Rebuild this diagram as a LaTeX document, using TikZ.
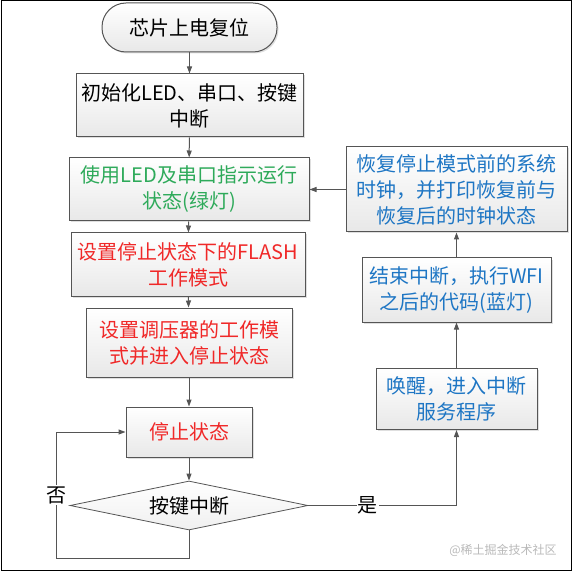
\documentclass[tikz,border=0pt]{standalone}
\usepackage{fontspec}
\newfontfamily\cjk{Noto Sans CJK SC}
\usetikzlibrary{arrows.meta, shapes.geometric, shadows}
\definecolor{stepgreen}{RGB}{46,170,90}
\definecolor{stepred}{RGB}{240,40,40}
\definecolor{stepblue}{RGB}{30,118,196}
\definecolor{linegray}{RGB}{85,85,85}
\begin{document}
\begin{tikzpicture}[x=1pt, y=-1pt,
    flowbox/.style={rectangle, draw=linegray, line width=1pt, top color=white, bottom color=gray!18,
      drop shadow={shadow xshift=1.5pt, shadow yshift=-1.5pt, fill=gray!50},
      align=center, inner sep=0pt, font=\cjk\fontsize{20}{26}\selectfont},
    termbox/.style={flowbox, rounded corners=24pt},
    decision/.style={diamond, draw=linegray, line width=0.8pt, top color=white, bottom color=gray!12,
      aspect=4.86, inner sep=0pt, font=\cjk\fontsize{20}{26}\selectfont},
    flowarrow/.style={-{Triangle[length=7pt,width=5pt]}, draw=linegray, line width=1pt},
    yesno/.style={fill=white, inner sep=1pt, font=\cjk\fontsize{20}{22}\selectfont}]
  \useasboundingbox (0,0) rectangle (573,572);
  \draw[black, line width=1pt] (1,1) rectangle (571,570);
  % main column
  \node[termbox, minimum width=175pt, minimum height=49pt] (start) at (189.5,27.5) {芯片上电复位};
  \node[flowbox, minimum width=227pt, minimum height=63pt] (init) at (189.5,105.5)
    {初始化LED、串口、按键\\中断};
  \node[flowbox, minimum width=240pt, minimum height=63pt, text=stepgreen] (run) at (189,189.5)
    {使用LED及串口指示运行\\状态(绿灯)};
  \node[flowbox, minimum width=234pt, minimum height=63pt, text=stepred] (flash) at (188,264.5)
    {设置停止状态下的FLASH\\工作模式};
  \node[flowbox, minimum width=206pt, minimum height=69pt, text=stepred] (regu) at (189,342.5)
    {设置调压器的工作模\\式并进入停止状态};
  \node[flowbox, minimum width=126pt, minimum height=50pt, text=stepred] (stop) at (189,432) {停止状态};
  \node[decision, minimum width=238pt, minimum height=49pt] (key) at (189,505.5) {按键中断};
  % right column
  \node[flowbox, minimum width=161pt, minimum height=61pt, text=stepblue] (wake) at (456.5,399)
    {唤醒，进入中断\\服务程序};
  \node[flowbox, minimum width=189pt, minimum height=64pt, text=stepblue] (wfi) at (456.5,290)
    {结束中断，执行WFI\\之后的代码(蓝灯)};
  \node[flowbox, minimum width=221pt, minimum height=85pt, text=stepblue] (clock) at (456.5,189.5)
    {恢复停止模式前的系统\\时钟，并打印恢复前与\\恢复后的时钟状态};
  \coordinate (noturn) at (56,558);
  % connectors
  \draw[flowarrow] (start) -- (init);
  \draw[flowarrow] (init) -- (run);
  \draw[flowarrow] (run) -- (flash);
  \draw[flowarrow] (flash) -- (regu);
  \draw[flowarrow] (regu) -- (stop);
  \draw[flowarrow] (stop) -- (key);
  \draw[flowarrow] (key.south) |- (noturn) |- (stop.west)
    node[yesno, pos=0.25] {否};
  \draw[flowarrow] (key.east) -| (wake.south) node[yesno, pos=0.2] {是};
  \draw[flowarrow] (wake) -- (wfi);
  \draw[flowarrow] (wfi) -- (clock);
  \draw[flowarrow] (clock.west) -- (run.east);
  \node[text=gray!55, font=\cjk\fontsize{12}{14}\selectfont] (mark) at (503,550) {@稀土掘金技术社区};
\end{tikzpicture}
\end{document}
